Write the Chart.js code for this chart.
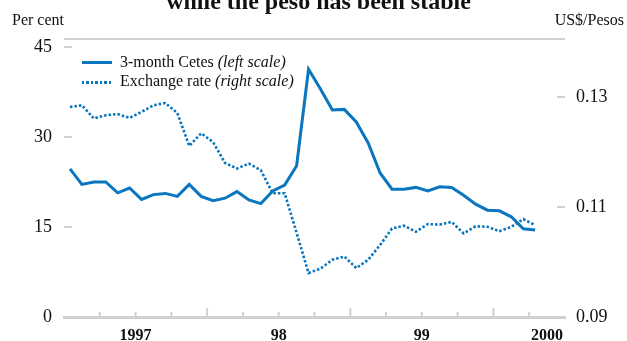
<!DOCTYPE html>
<html>
<head>
<meta charset="utf-8">
<script src="https://cdn.jsdelivr.net/npm/chart.js@4.4.1/dist/chart.umd.min.js"></script>
<style>
body { margin: 0; background: #fff; }
#wrap { position: relative; width: 627px; height: 341px; overflow: hidden; font-family: "Liberation Serif", serif; color: #111; }
#myChart { position: absolute; left: 0; top: 0; }
.t { position: absolute; white-space: nowrap; font-size: 16px; line-height: 16px; }
#title { left: 5px; width: 627px; top: -11px; text-align: center; font-weight: bold; font-size: 24px; line-height: 24px; }
.key { position: absolute; left: 82px; width: 30px; height: 3px; }
</style>
</head>
<body>
<div id="wrap">
  <canvas id="myChart" width="627" height="341"></canvas>
  <div class="t" id="title">while the peso has been stable</div>
  <div class="t" style="left:12px; top:12px;">Per cent</div>
  <div class="t" style="right:3px; top:12px;">US$/Pesos</div>
  <div class="key" style="top:60.5px; background:#0a76bf;"></div>
  <div class="t" style="left:120px; top:54px;">3-month Cetes <i>(left scale)</i></div>
  <div class="key" style="top:80.5px; background:repeating-linear-gradient(90deg,#0a76bf 0 2.5px,transparent 2.5px 4.5px);"></div>
  <div class="t" style="left:120px; top:73px;">Exchange rate <i>(right scale)</i></div>
</div>
<script>
// monthly, Jan 1997 - Apr 2000
var months = ['Jan 97','Feb 97','Mar 97','Apr 97','May 97','Jun 97','Jul 97','Aug 97','Sep 97','Oct 97','Nov 97','Dec 97',
              'Jan 98','Feb 98','Mar 98','Apr 98','May 98','Jun 98','Jul 98','Aug 98','Sep 98','Oct 98','Nov 98','Dec 98',
              'Jan 99','Feb 99','Mar 99','Apr 99','May 99','Jun 99','Jul 99','Aug 99','Sep 99','Oct 99','Nov 99','Dec 99',
              'Jan 00','Feb 00','Mar 00','Apr 00'];
var cetes = [24.7,22.1,22.5,22.5,20.7,21.5,19.6,20.4,20.6,20.1,22.1,20.1,
             19.4,19.8,20.9,19.5,18.9,21.0,22.0,25.2,41.3,38.0,34.5,34.6,
             32.5,29.0,24.0,21.3,21.3,21.6,21.0,21.7,21.6,20.3,18.8,17.8,
             17.7,16.7,14.7,14.5];
var peso = [0.1282,0.1285,0.1261,0.1267,0.1269,0.1262,0.1273,0.1285,0.1289,0.1271,0.1211,0.1234,
            0.1218,0.1180,0.1170,0.1179,0.1167,0.1125,0.1125,0.1053,0.0980,0.0988,0.1004,0.1010,
            0.0989,0.1004,0.1031,0.1061,0.1066,0.1055,0.1069,0.1068,0.1073,0.1052,0.1065,0.1064,
            0.1056,0.1064,0.1078,0.1067];
var yearLabels = ['1997','98','99','2000'];
var leftTicks = [0, 15, 30, 45];
var rightTicks = [0.09, 0.11, 0.13];

var blue = '#0a76bf';
var grey = '#d0d0d0';

Chart.defaults.font.family = '"Liberation Serif", serif';
Chart.defaults.color = '#111';

// grey rule on top, inward tick stubs
var frame = {
  id: 'frame',
  beforeDatasetsDraw: function(chart) {
    var ctx = chart.ctx, a = chart.chartArea;
    var x = chart.scales.x, yl = chart.scales.y, yr = chart.scales.y1;
    ctx.save();
    ctx.strokeStyle = grey;
    ctx.lineWidth = 2;
    ctx.beginPath();
    ctx.moveTo(a.left, a.top - 8);
    ctx.lineTo(a.right, a.top - 8);
    leftTicks.slice(1).forEach(function(v) {
      var p = yl.getPixelForValue(v);
      ctx.moveTo(a.left, p); ctx.lineTo(a.left + 8, p);
    });
    rightTicks.slice(1).forEach(function(v) {
      var p = yr.getPixelForValue(v);
      ctx.moveTo(a.right - 8, p); ctx.lineTo(a.right, p);
    });
    for (var q = x.min + 3; q < x.max; q += 3) {
      var px = x.getPixelForValue(q);
      var len = ((q + 0.5) % 12 === 0) ? 9 : 5;
      ctx.moveTo(px, a.bottom); ctx.lineTo(px, a.bottom - len);
    }
    ctx.stroke();
    ctx.restore();
  }
};

var ctx = document.getElementById('myChart').getContext('2d');
var myChart = new Chart(ctx, {
  type: 'line',
  data: {
    datasets: [{
      label: '3-month Cetes (left scale)',
      data: cetes.map(function(v, i) { return {x: i, y: v}; }),
      borderColor: blue,
      borderWidth: 3,
      pointRadius: 0,
      yAxisID: 'y'
    }, {
      label: 'Exchange rate (right scale)',
      data: peso.map(function(v, i) { return {x: i, y: v}; }),
      borderColor: blue,
      borderWidth: 2.6,
      borderDash: [2.5, 2],
      pointRadius: 0,
      yAxisID: 'y1'
    }]
  },
  options: {
    responsive: false,
    animation: false,
    layout: { padding: { left: 0, right: 0, top: 47, bottom: 0 } },
    plugins: { legend: { display: false }, tooltip: { enabled: false } },
    scales: {
      x: {
        type: 'linear',
        position: 'bottom',
        bounds: 'data',
        min: -0.5,
        max: 41.5,
        grid: { display: false },
        border: { display: true, color: grey, width: 3 },
        afterBuildTicks: function(scale) {
          scale.ticks = yearLabels.map(function(l, i) { return {value: Math.min(12 * i + 5.5, 40)}; });
        },
        afterFit: function(scale) { scale.height = 24; },
        ticks: {
          autoSkip: false,
          maxRotation: 0,
          padding: 1,
          font: { size: 16, weight: 'bold' },
          callback: function(v, i) { return yearLabels[i]; }
        }
      },
      y: {
        position: 'left',
        min: 0,
        max: 45,
        grid: { display: false },
        border: { display: false },
        afterBuildTicks: function(scale) {
          scale.ticks = leftTicks.map(function(v) { return {value: v}; });
        },
        afterFit: function(scale) { scale.width = 64; },
        ticks: { padding: 4, font: { size: 18 } }
      },
      y1: {
        position: 'right',
        bounds: 'data',
        min: 0.09,
        max: 0.1391,
        grid: { display: false },
        border: { display: false },
        afterBuildTicks: function(scale) {
          scale.ticks = rightTicks.map(function(v) { return {value: v}; });
        },
        afterFit: function(scale) { scale.width = 62; },
        ticks: {
          padding: 3,
          font: { size: 18 },
          callback: function(v) { return v.toFixed(2); }
        }
      }
    }
  },
  plugins: [frame]
});
</script>
</body>
</html>
